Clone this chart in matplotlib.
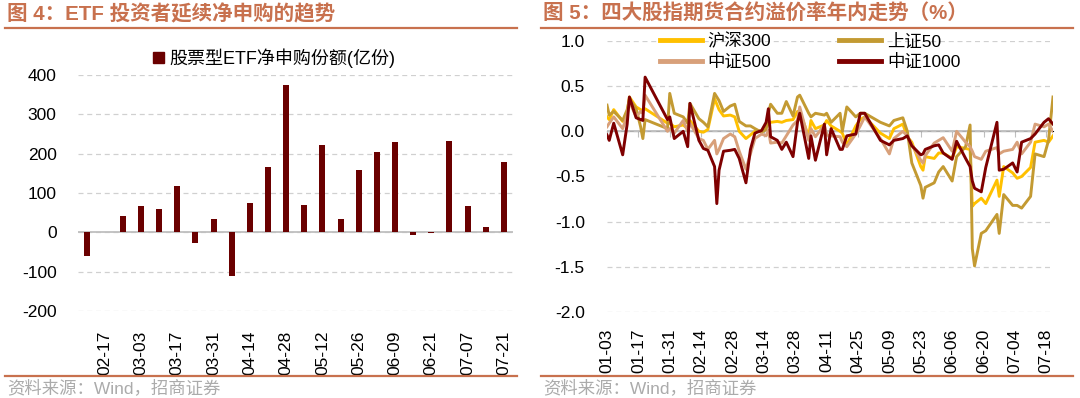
"""ETF net subscription and index futures basis charts."""

# 3rd party libraries
import numpy as np
import pandas as pd
import matplotlib
matplotlib.use('Agg')
from matplotlib import pyplot as plt
from matplotlib import dates as mdates
from matplotlib.lines import Line2D
from matplotlib.patches import Patch

plt.rcParams['font.family'] = ['Liberation Sans', 'Noto Sans CJK SC', 'DejaVu Sans']
plt.rcParams['axes.unicode_minus'] = False

# left chart: weekly net subscription of equity ETFs (100m units)
week_labels = ['02-10', '02-17', '02-24', '03-03', '03-10', '03-17', '03-24', '03-31',
               '04-07', '04-14', '04-21', '04-28', '05-05', '05-12', '05-19', '05-26',
               '06-02', '06-09', '06-16', '06-21', '06-30', '07-07', '07-14', '07-21']
etf_net = [-59, 0, 42, 68, 59, 119, -26, 34, -111, 74, 165, 374,
           69, 223, 35, 158, 205, 230, -6, -2, 232, 67, 13, 178]

# right chart: futures basis (%), 2023 trading days
basis_dates = ['01-03', '01-04', '01-06', '01-10', '01-12', '01-13', '01-16', '01-18', '01-19', '01-20',
               '01-30', '01-31', '02-02', '02-06', '02-08', '02-09', '02-13', '02-15', '02-17', '02-20',
               '02-21', '02-22', '02-24', '02-27', '03-01', '03-03', '03-06', '03-08', '03-10', '03-13',
               '03-15', '03-16', '03-17', '03-20', '03-22', '03-24', '03-27', '03-29', '03-30', '04-03',
               '04-04', '04-06', '04-10', '04-11', '04-13', '04-17', '04-18', '04-20', '04-24', '04-26',
               '04-28', '05-05', '05-09', '05-11', '05-15', '05-17', '05-19', '05-23', '05-24', '05-25',
               '05-29', '05-31', '06-02', '06-06', '06-08', '06-12', '06-14', '06-15', '06-16', '06-19',
               '06-21', '06-26', '06-27', '06-29', '07-03', '07-05', '07-07', '07-11', '07-13', '07-17',
               '07-19', '07-21']
hs300 = [0.16, 0.13, 0.24, 0.11, 0.20, 0.38, 0.27, 0.24, 0.23, 0.25,
         0.09, 0.09, 0.05, 0.07, 0.03, 0.12, 0.00, -0.01, 0.02, 0.36,
         0.30, 0.24, 0.17, 0.18, 0.16, 0.00, -0.08, -0.04, 0.00, 0.00,
         0.04, 0.09, 0.10, 0.11, 0.10, 0.12, 0.13, 0.22, 0.22, -0.06,
         0.12, 0.03, 0.07, 0.12, 0.06, 0.00, -0.02, -0.15, 0.06, 0.13,
         0.16, -0.02, -0.08, 0.03, 0.08, -0.06, -0.12, -0.39, -0.43, -0.28,
         -0.30, -0.24, -0.24, -0.30, -0.17, -0.19, -0.20, -0.83, -0.80, -0.74,
         -0.80, -0.54, -0.72, -0.39, -0.46, -0.52, -0.50, -0.40, -0.12, -0.10,
         -0.12, -0.05]
sz50 = [0.29, 0.18, 0.22, 0.12, 0.24, 0.36, 0.25, 0.05, -0.08, 0.13,
        0.03, 0.42, 0.20, 0.16, 0.09, 0.31, 0.14, 0.10, 0.05, 0.42,
        0.38, 0.34, 0.22, 0.28, 0.30, 0.11, 0.06, 0.06, 0.03, -0.01,
        0.02, 0.20, 0.30, 0.20, 0.20, 0.33, 0.17, 0.38, 0.40, 0.20,
        0.16, 0.20, 0.18, 0.20, 0.10, 0.20, 0.00, 0.27, 0.16, 0.20,
        0.20, 0.10, 0.06, 0.12, 0.15, 0.00, -0.35, -0.60, -0.74, -0.62,
        -0.57, -0.45, -0.39, -0.55, -0.28, -0.17, 0.07, -1.30, -1.49, -1.13,
        -1.10, -0.92, -1.13, -0.70, -0.82, -0.82, -0.85, -0.72, -0.25, -0.28,
        -0.10, 0.38]
zz500 = [0.05, 0.09, 0.16, 0.03, 0.18, 0.33, 0.16, 0.22, 0.20, 0.40,
         0.00, 0.03, -0.02, 0.12, 0.00, 0.09, -0.08, -0.10, -0.20, -0.10,
         -0.25, -0.20, -0.08, -0.03, -0.06, -0.22, -0.42, -0.25, -0.08, -0.03,
         -0.05, 0.01, -0.13, -0.12, -0.13, -0.05, 0.07, 0.12, 0.27, -0.10,
         0.03, -0.06, 0.07, -0.04, -0.05, -0.06, -0.12, -0.17, -0.03, 0.06,
         0.16, -0.08, -0.25, -0.08, 0.00, -0.05, -0.15, -0.32, -0.35, -0.27,
         -0.13, -0.10, -0.07, -0.22, 0.00, -0.12, -0.17, -0.22, -0.28, -0.31,
         -0.22, -0.18, -0.25, -0.22, -0.20, -0.12, -0.25, -0.12, 0.08, 0.05,
         0.08, 0.00]
zz1000 = [-0.04, -0.10, 0.09, -0.26, 0.08, 0.38, 0.15, 0.13, 0.12, 0.60,
          0.13, 0.16, -0.08, 0.00, -0.17, 0.31, -0.10, -0.19, -0.21, -0.39,
          -0.80, -0.43, -0.22, -0.21, -0.20, -0.30, -0.57, -0.20, -0.02, 0.01,
          0.10, 0.25, -0.06, -0.10, -0.20, -0.12, -0.28, 0.10, 0.20, -0.30,
          -0.05, -0.32, 0.08, -0.26, 0.03, -0.20, -0.20, -0.05, -0.03, 0.20,
          0.20, -0.10, -0.15, -0.10, -0.08, -0.05, -0.16, -0.26, -0.25, -0.20,
          -0.16, -0.15, -0.24, -0.31, -0.11, -0.30, -0.39, -0.55, -0.63, -0.67,
          -0.40, 0.10, -0.43, -0.42, -0.35, -0.45, -0.12, -0.08, -0.03, 0.10,
          0.14, 0.08]
series_names = ['沪深300', '上证50', '中证500', '中证1000']
series_colors = ['#FFC000', '#C39A32', '#D8A07A', '#7F0000']

title_color = '#C8714E'
grid_color = '#D0D0D0'
W, H = 1080, 398


def px_rect(x0, y0, x1, y1):
    """Pixel box (top-left origin) to figure fraction rect."""
    return [x0 / W, 1 - y1 / H, (x1 - x0) / W, (y1 - y0) / H]


fig = plt.figure(figsize=(W / 100, H / 100), dpi=100)

# titles, rules and source notes
for x0, x1, title in [(5, 517, '图 4：ETF 投资者延续净申购的趋势'),
                      (541, 1073, '图 5：四大股指期货合约溢价率年内走势（%）')]:
    fig.text((x0 + 2) / W, 1 - 14 / H, title, color=title_color, fontsize=14.8,
             fontweight='bold', va='center', ha='left')
    fig.add_artist(Line2D([x0 / W, x1 / W], [1 - 28 / H] * 2, color=title_color, lw=1.6))
    fig.add_artist(Line2D([x0 / W, x1 / W], [1 - 376 / H] * 2, color=title_color, lw=1.6))
    fig.text((x0 + 2) / W, 1 - 388 / H, '资料来源：Wind，招商证券', color='#ABABAB',
             fontsize=12.5, va='center', ha='left')

# ---- left: bar chart ----
ax1 = fig.add_axes(px_rect(77.5, 75, 513, 311))
x_pos = np.arange(len(week_labels))
ax1.bar(x_pos, etf_net, width=0.33, color='#6A0000', zorder=3)
ax1.set_xlim(-0.5, len(week_labels) - 0.5)
ax1.set_ylim(-200, 400)
ax1.set_yticks(np.arange(-200, 401, 100))
ax1.set_xticks(x_pos[1::2])
ax1.set_xticklabels(week_labels[1::2], rotation=90)
ax1.grid(axis='y', color=grid_color, linestyle=(0, (4, 3)), lw=0.9)
ax1.axhline(0, color='#BFBFBF', lw=1.3, zorder=2)
ax1.tick_params(axis='y', length=0, pad=15, labelsize=12.5)
ax1.tick_params(axis='x', length=0, pad=14, labelsize=12.5)
for s in ax1.spines.values():
    s.set_visible(False)
ax1.legend(handles=[Patch(color='#6A0000', label='股票型ETF净申购份额(亿份)')],
           loc='center left', bbox_to_anchor=(153 / W, 1 - 58 / H), bbox_transform=fig.transFigure,
           frameon=False, fontsize=13, handlelength=0.6, handleheight=0.6, handletextpad=0.3,
           borderpad=0, borderaxespad=0)

# ---- right: line chart ----
ax2 = fig.add_axes(px_rect(607, 41, 1053, 312))
dates = pd.to_datetime(['2023-' + d for d in basis_dates])
handles = []
for vals, name, col in zip([hs300, sz50, zz500, zz1000], series_names, series_colors):
    ln, = ax2.plot(dates, vals, color=col, lw=2.1, label=name, zorder=3)
    handles.append(ln)
ax2.set_ylim(-2.0, 1.0)
ax2.set_yticks(np.arange(-2.0, 1.01, 0.5))
ax2.yaxis.set_major_formatter(plt.FormatStrFormatter('%.1f'))
ax2.set_xlim(pd.Timestamp('2023-01-03'), pd.Timestamp('2023-07-21'))
tick_dates = pd.date_range('2023-01-03', '2023-07-21', freq='14D')
ax2.set_xticks(tick_dates)
ax2.xaxis.set_major_formatter(mdates.DateFormatter('%m-%d'))
ax2.tick_params(axis='x', rotation=90, length=0, pad=12, labelsize=12.5)
ax2.tick_params(axis='y', length=0, pad=16, labelsize=12.5)
ax2.grid(axis='y', color=grid_color, linestyle=(0, (4, 3)), lw=0.9)
ax2.axhline(0, color='#BFBFBF', lw=1.3, zorder=2)
zero_frac = (0 - (-2.0)) / 3.0
sec = ax2.secondary_xaxis(zero_frac)
sec.set_xticks(tick_dates)
sec.tick_params(axis='x', direction='in', length=4, color='#BFBFBF', labelbottom=False)
sec.set_xticklabels([])
sec.spines['bottom'].set_visible(False)
for s in ax2.spines.values():
    s.set_visible(False)
# legend fills by column: order so rows read 沪深300/上证50, 中证500/中证1000
leg_order = [0, 2, 1, 3]
ax2.legend([handles[i] for i in leg_order], [series_names[i] for i in leg_order],
           loc='upper left', bbox_to_anchor=(660 / W, 1 - 33 / H), bbox_transform=fig.transFigure,
           ncol=2, frameon=False, fontsize=12.5, handlelength=2.4, handletextpad=0.35,
           columnspacing=3.9, labelspacing=0.25, borderpad=0, borderaxespad=0)
for line in ax2.get_legend().get_lines():
    line.set_linewidth(3.5)

fig.savefig('out.png', dpi=100)
